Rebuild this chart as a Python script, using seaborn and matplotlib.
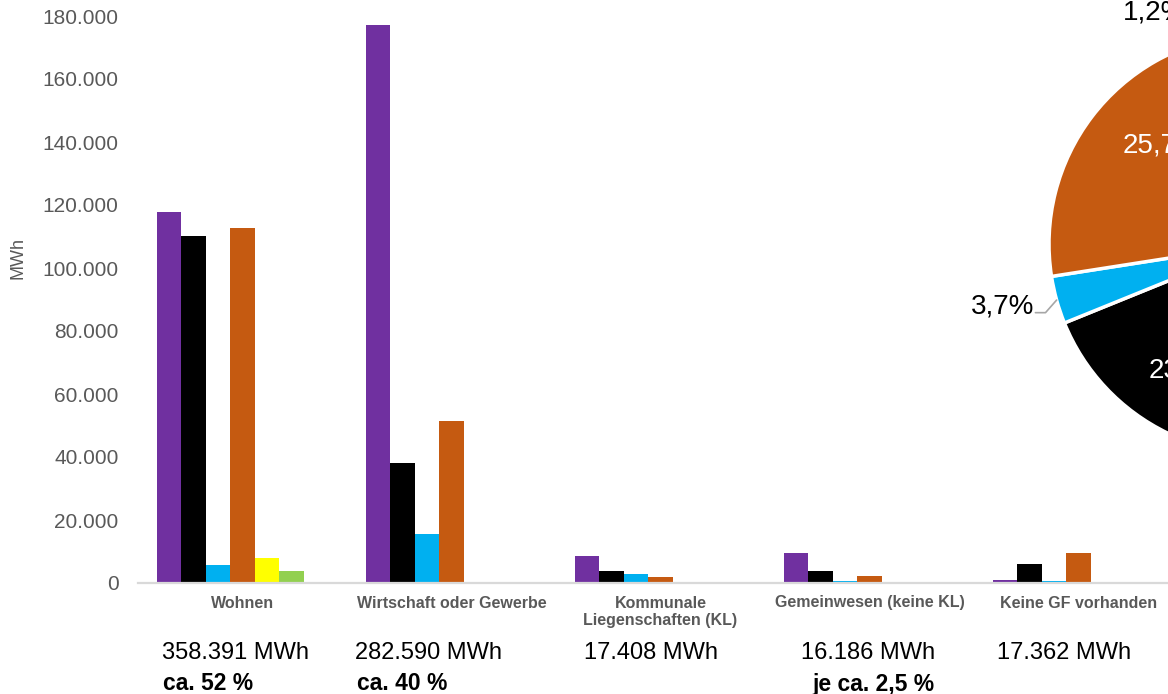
import numpy as np
import pandas as pd
import matplotlib
matplotlib.use("Agg")
import matplotlib.pyplot as plt
from matplotlib.ticker import FuncFormatter
import seaborn as sns

# ---------------- data ----------------
categories = ["Wohnen", "Wirtschaft oder Gewerbe", "Kommunale\nLiegenschaften (KL)",
              "Gemeinwesen (keine KL)", "Keine GF vorhanden"]
series_names = ["Serie 1", "Serie 2", "Serie 3", "Serie 4", "Serie 5", "Serie 6", "Serie 7"]
s1_purple = [117900, 177300, 8700, 9600, 900]
s2_black = [110300, 38000, 3900, 3800, 6100]
s3_blue = [5800, 15500, 2900, 600, 600]
s4_orange = [112600, 51500, 1900, 2200, 9500]
s5_yellow = [7900, 100, 0, 0, 0]
s6_green = [3700, 400, 0, 0, 0]
s7_red = [150, 0, 0, 0, 100]
y_ticks = [0, 20000, 40000, 60000, 80000, 100000, 120000, 140000, 160000, 180000]
total_labels = ["358.391 MWh", "282.590 MWh", "17.408 MWh", "16.186 MWh", "17.362 MWh"]
share_labels = ["ca. 52 %", "ca. 40 %", "je ca. 2,5 %"]

colors = ["#7030A0", "#000000", "#00B0F0", "#C55A11", "#FFFF00", "#92D050", "#C0504D"]
all_series = [s1_purple, s2_black, s3_blue, s4_orange, s5_yellow, s6_green, s7_red]

rows = []
for name, vals in zip(series_names, all_series):
    for cat, v in zip(categories, vals):
        rows.append({"Kategorie": cat, "Serie": name, "MWh": v})
df = pd.DataFrame(rows)

# ---------------- style ----------------
sns.set_theme(style="white")
plt.rcParams["font.family"] = ["Liberation Sans", "DejaVu Sans"]
grey = "#595959"

W, H = 1168, 694
fig = plt.figure(figsize=(W / 100, H / 100), dpi=100)

def fx(px):
    return px / W

def fy(py):
    return 1 - py / H

# ---------------- bar chart ----------------
ax = fig.add_axes([fx(138), fy(583), 1045 / W, 567 / H])
sns.barplot(data=df, x="Kategorie", y="MWh", hue="Serie", palette=colors,
            hue_order=series_names, order=categories, width=0.82,
            saturation=1, ax=ax, legend=False, linewidth=0, errorbar=None)
ax.set_xlim(-0.5, len(categories) - 0.5)
ax.set_ylim(0, 180000)
ax.set_yticks(y_ticks)
ax.yaxis.set_major_formatter(FuncFormatter(lambda v, p: f"{int(v):,}".replace(",", ".")))
ax.tick_params(axis="y", length=0, pad=14, labelsize=15, labelcolor=grey)
ax.tick_params(axis="x", length=0, pad=9, labelsize=11.5, labelcolor=grey)
for lab in ax.get_xticklabels():
    lab.set_fontweight("bold")
    lab.set_multialignment("center")
ax.set_xlabel("")
ax.set_ylabel("")
for sp in ["left", "right", "top"]:
    ax.spines[sp].set_visible(False)
ax.spines["bottom"].set_color("#D9D9D9")
ax.spines["bottom"].set_linewidth(1.6)
ax.grid(False)

fig.text(fx(18), fy(258), "MWh", rotation=90, ha="center", va="center",
         fontsize=13, color=grey)

# annotations below the chart
total_x = [162, 355, 584, 801, 997]
for x, t in zip(total_x, total_labels):
    fig.text(fx(x), fy(653), t, ha="left", va="center", fontsize=17, color="black")
share_x = [163, 357, 812]
for x, t in zip(share_x, share_labels):
    fig.text(fx(x), fy(684), t, ha="left", va="center", fontsize=16.5,
             color="black", fontweight="bold")

# ---------------- pie chart (partly outside the canvas) ----------------
totals = [sum(s) for s in all_series]
shares = np.array(totals) / sum(totals) * 100
cx, cy, r = 1259, 244, 210
pax = fig.add_axes([fx(cx - r), fy(cy + r), 2 * r / W, 2 * r / H])
wedges, _ = pax.pie(totals, colors=colors, startangle=90, counterclock=False,
                    wedgeprops=dict(edgecolor="white", linewidth=2.5))
pax.set_xlim(-1, 1)
pax.set_ylim(-1, 1)
pax.set_aspect("equal")
pax.axis("off")

def pct(v):
    return f"{v:.1f}%".replace(".", ",")

# inside labels (white): purple, black, orange
inside_pos = {0: None, 1: (-0.34, -0.60), 3: (-0.462, 0.471)}
for i, pos in inside_pos.items():
    w = wedges[i]
    if pos is None:
        mid = np.deg2rad((w.theta1 + w.theta2) / 2)
        pos = (0.67 * np.cos(mid), 0.67 * np.sin(mid))
    pax.text(pos[0], pos[1], pct(shares[i]), ha="center", va="center",
             fontsize=20, color="white", clip_on=False)

# blue slice: outside label with leader line
wb = wedges[2]
mb = np.deg2rad((wb.theta1 + wb.theta2) / 2)
p0 = (np.cos(mb), np.sin(mb))
p1 = (p0[0] - 0.053, p0[1] - 0.06)
p2 = (p1[0] - 0.048, p1[1])
pax.plot([p0[0], p1[0], p2[0]], [p0[1], p1[1], p2[1]], color="#A6A6A6",
         linewidth=1.2, clip_on=False)
pax.text(p2[0] - 0.005, p2[1] - 0.005, pct(shares[2]), ha="right", va="baseline",
         fontsize=20, color="black", clip_on=False)

# yellow slice label at the top
pax.text(-0.648, 1.067, pct(shares[4]), ha="left", va="baseline",
         fontsize=20, color="black", clip_on=False)

fig.savefig("out.png", dpi=100)
